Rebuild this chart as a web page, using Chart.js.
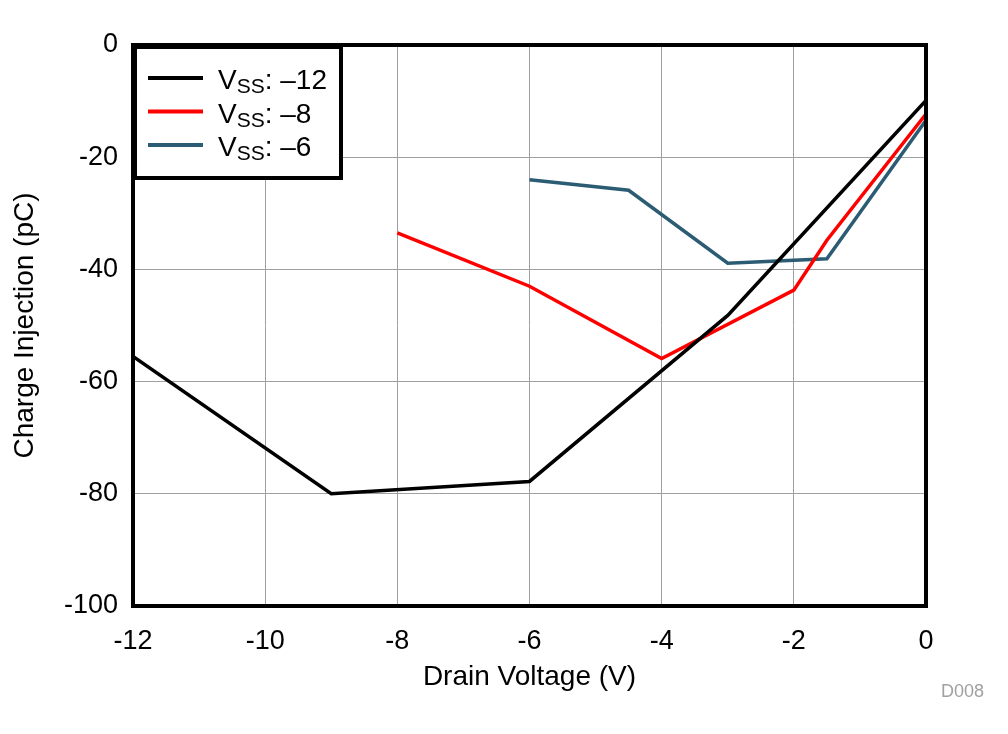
<!DOCTYPE html>
<html>
<head>
<meta charset="utf-8">
<script src="https://cdn.jsdelivr.net/npm/chart.js@4.4.0/dist/chart.umd.min.js"></script>
<style>
  html, body { margin: 0; padding: 0; background: #fff; }
  #wrap { width: 1008px; height: 734px; }
</style>
</head>
<body>
<div id="wrap"><canvas id="chart" width="1008" height="734"></canvas></div>
<script>
// drain voltage (V) and charge injection (pC) for each supply
const xTicks = [-12, -10, -8, -6, -4, -2, 0];
const yTicks = [-100, -80, -60, -40, -20, 0];

const vdVss12 = [-12, -9, -6, -3, 0];
const qVss12 = [-55.5, -80, -77.8, -48.2, -9.9];

const vdVss8 = [-8, -6, -4, -2, -1.5, 0];
const qVss8 = [-33.5, -43, -55.9, -43.7, -34.8, -12.3];

const vdVss6 = [-6, -4.5, -3, -1.5, 0];
const qVss6 = [-24, -25.9, -38.9, -38.1, -13.4];

const seriesNames = ["\u201312", "\u20138", "\u20136"];
const seriesColors = ["#000000", "#FF0000", "#2B5C74"];

const font = "Arial, 'Liberation Sans', sans-serif";

function pts(xs, ys) {
  return xs.map((x, i) => ({ x: x, y: ys[i] }));
}

const framePlugin = {
  id: "frame",
  afterDatasetsDraw(chart) {
    const ctx = chart.ctx;
    const a = chart.chartArea;
    ctx.save();
    ctx.strokeStyle = "#000";
    ctx.lineWidth = 4;
    ctx.strokeRect(a.left, a.top, a.right - a.left, a.bottom - a.top);

    // legend box
    ctx.fillStyle = "#fff";
    ctx.fillRect(a.left, a.top, 210, 135);
    ctx.strokeRect(a.left + 2, a.top + 2, 206, 131);

    chart.data.datasets.forEach((ds, i) => {
      const y = a.top + 33 + i * 33.5;
      ctx.strokeStyle = ds.borderColor;
      ctx.lineWidth = 4;
      ctx.beginPath();
      ctx.moveTo(a.left + 15, y);
      ctx.lineTo(a.left + 70, y);
      ctx.stroke();

      ctx.fillStyle = "#000";
      ctx.textBaseline = "alphabetic";
      ctx.textAlign = "left";
      let x = a.left + 85;
      const base = y + 11;
      ctx.font = "28px " + font;
      ctx.fillText("V", x, base);
      x += ctx.measureText("V").width;
      ctx.font = "21px " + font;
      ctx.fillText("SS", x, base + 4);
      x += ctx.measureText("SS").width;
      ctx.font = "28px " + font;
      ctx.fillText(": " + seriesNames[i], x, base);
    });

    ctx.fillStyle = "#A0A0A0";
    ctx.font = "18px " + font;
    ctx.textAlign = "right";
    ctx.fillText("D008", 984, 697);
    ctx.restore();
  }
};

new Chart(document.getElementById("chart"), {
  type: "line",
  data: {
    datasets: [
      { label: "VSS: " + seriesNames[0], data: pts(vdVss12, qVss12), borderColor: seriesColors[0] },
      { label: "VSS: " + seriesNames[1], data: pts(vdVss8, qVss8), borderColor: seriesColors[1] },
      { label: "VSS: " + seriesNames[2], data: pts(vdVss6, qVss6), borderColor: seriesColors[2] }
    ]
  },
  options: {
    responsive: false,
    animation: false,
    layout: { padding: { left: 0, top: 45, right: 82, bottom: 0 } },
    elements: {
      line: { borderWidth: 3.5, tension: 0, fill: false },
      point: { radius: 0 }
    },
    plugins: {
      legend: { display: false },
      tooltip: { enabled: false }
    },
    scales: {
      x: {
        type: "linear",
        min: -12,
        max: 0,
        afterFit(scale) { scale.height = 128; },
        afterBuildTicks(scale) { scale.ticks = xTicks.map(v => ({ value: v })); },
        grid: { color: "#A0A0A0", lineWidth: 1, drawTicks: false },
        border: { display: false },
        ticks: { color: "#000", font: { family: font, size: 27 }, padding: 19, maxRotation: 0 },
        title: {
          display: true,
          text: "Drain Voltage (V)",
          color: "#000",
          font: { family: font, size: 28 },
          padding: { top: 0, bottom: 40 }
        }
      },
      y: {
        type: "linear",
        min: -100,
        max: 0,
        afterFit(scale) { scale.width = 133; },
        afterBuildTicks(scale) { scale.ticks = yTicks.map(v => ({ value: v })); },
        grid: { color: "#A0A0A0", lineWidth: 1, drawTicks: false },
        border: { display: false },
        ticks: { color: "#000", font: { family: font, size: 27 }, padding: 15 },
        title: {
          display: true,
          text: "Charge Injection (pC)",
          color: "#000",
          font: { family: font, size: 28 },
          padding: { top: 8, bottom: 0 }
        }
      }
    }
  },
  plugins: [framePlugin]
});
</script>
</body>
</html>
